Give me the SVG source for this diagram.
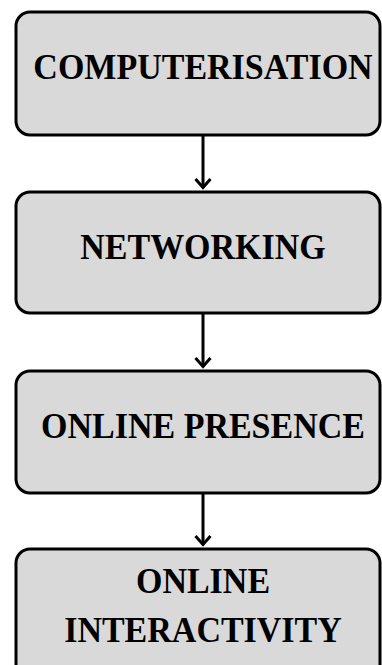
<svg xmlns="http://www.w3.org/2000/svg" width="382" height="665" viewBox="0 0 382 665">
  <style>
    .box { fill: #d9d9d9; stroke: #000; stroke-width: 3; }
    .label { font-family: "Liberation Serif", "Times New Roman", serif; font-weight: bold; font-size: 34px; fill: #000; text-anchor: middle; }
    .link { fill: none; stroke: #000; stroke-width: 3; }
    .head { fill: none; stroke: #000; stroke-width: 3; stroke-linejoin: miter; }
  </style>
  <rect width="382" height="665" fill="#fff"/>

  <!-- labels are set at the baseline and stretched slightly upward -->
  <g id="computerisation">
    <rect class="box" x="16" y="12" width="364" height="123" rx="14" ry="14"/>
    <text class="label" transform="translate(203,79) scale(1,1.08)">COMPUTERISATION</text>
  </g>

  <g id="networking">
    <rect class="box" x="16" y="192" width="364" height="121" rx="14" ry="14"/>
    <text class="label" transform="translate(203,259) scale(1,1.08)">NETWORKING</text>
  </g>

  <g id="online-presence">
    <rect class="box" x="16" y="371" width="364" height="122" rx="14" ry="14"/>
    <text class="label" transform="translate(203,438) scale(1,1.08)">ONLINE PRESENCE</text>
  </g>

  <g id="online-interactivity">
    <rect class="box" x="16" y="549" width="364" height="130" rx="14" ry="14"/>
    <text class="label" transform="translate(203,593) scale(1,1.08)">ONLINE</text>
    <text class="label" transform="translate(203,642) scale(1,1.08)">INTERACTIVITY</text>
  </g>

  <g id="connectors">
    <line class="link" x1="203" y1="136" x2="203" y2="188"/>
    <polyline class="head" points="195.5,179 203,187.5 210.5,179"/>
    <line class="link" x1="203" y1="314" x2="203" y2="367"/>
    <polyline class="head" points="195.5,358 203,366.5 210.5,358"/>
    <line class="link" x1="203" y1="494" x2="203" y2="545"/>
    <polyline class="head" points="195.5,536 203,544.5 210.5,536"/>
  </g>
</svg>
